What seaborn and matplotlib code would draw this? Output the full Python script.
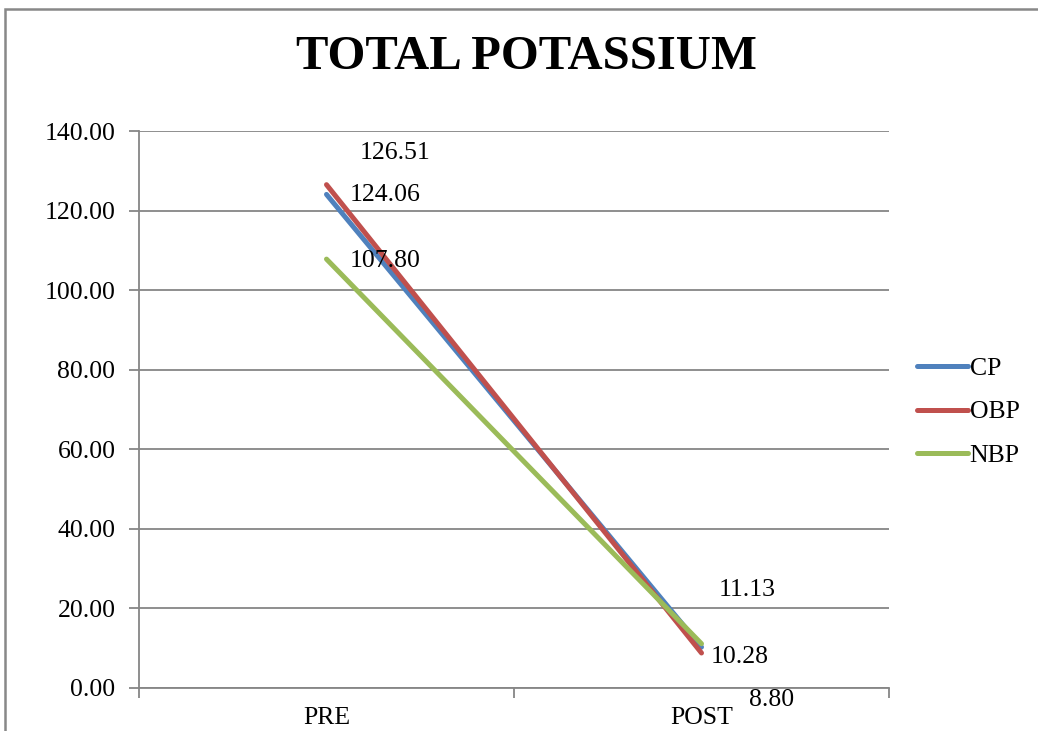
import matplotlib
matplotlib.use("Agg")
import matplotlib.pyplot as plt
import matplotlib.patches as mpatches
import pandas as pd
import seaborn as sb

# data
stages = ["PRE", "POST"]
groups = ["CP", "OBP", "NBP"]
cp_values = [124.06, 10.28]
obp_values = [126.51, 8.80]
nbp_values = [107.80, 11.13]
colors = ["#4F81BD", "#C0504D", "#9BBB59"]

sb.set_style("white")
plt.rcParams["font.family"] = ["Liberation Serif", "DejaVu Serif"]
plt.rcParams["text.color"] = "black"
plt.rcParams["xtick.color"] = "black"
plt.rcParams["ytick.color"] = "black"

rows = []
for name, vals in zip(groups, [cp_values, obp_values, nbp_values]):
    for stage, v in zip(stages, vals):
        rows.append({"Stage": stage, "Group": name, "Value": v})
df = pd.DataFrame(rows)

fig = plt.figure(figsize=(10.38, 7.31), dpi=100)
ax = fig.add_axes([139 / 1038, 1 - 688 / 731, 750 / 1038, 557 / 731])

sb.lineplot(data=df, x="Stage", y="Value", hue="Group", hue_order=groups,
            palette=colors, linewidth=3.6, ax=ax, sort=False, legend=True)
for line in ax.lines:
    line.set_solid_capstyle("round")

ax.set_xlim(-0.5, 1.5)
ax.set_ylim(0, 140)
ax.set_yticks(range(0, 141, 20))
ax.set_yticklabels(["%.2f" % t for t in range(0, 141, 20)], fontsize=18.5)
ax.set_xticks([0, 1])
ax.set_xticklabels(stages, fontsize=18.5)
ax.set_xticks([-0.5, 0.5, 1.5], minor=True)
ax.tick_params(axis="x", which="major", bottom=True, length=0, pad=14, labelcolor="black")
ax.tick_params(axis="x", which="minor", bottom=True, length=7, color="#868686", width=1.3,
               direction="out")
ax.tick_params(axis="y", left=True, length=7, color="#868686", width=1.3, direction="out",
               pad=10, labelcolor="black")
ax.yaxis.grid(True, color="#868686", linewidth=1.3)
ax.xaxis.grid(False)
for side in ["top", "right"]:
    ax.spines[side].set_visible(False)
for side in ["left", "bottom"]:
    ax.spines[side].set_color("#868686")
    ax.spines[side].set_linewidth(1.3)
ax.set_xlabel("")
ax.set_ylabel("")

# data labels, staggered like the original
offsets = {
    ("CP", 0): (23, -1), ("OBP", 0): (33, 32), ("NBP", 0): (23, -2),
    ("CP", 1): (9, -10), ("OBP", 1): (47, -47), ("NBP", 1): (17, 54),
}
for name, vals in zip(groups, [cp_values, obp_values, nbp_values]):
    for i, v in enumerate(vals):
        ax.annotate("%.2f" % v, xy=(i, v), xytext=offsets[(name, i)],
                    textcoords="offset pixels", ha="left", va="center",
                    fontsize=18.5, color="black", annotation_clip=False)

handles, labels = ax.get_legend_handles_labels()
leg = ax.legend(handles, labels, loc="center left", bbox_to_anchor=(904 / 1038, 1 - 412 / 731),
                bbox_transform=fig.transFigure, frameon=False, fontsize=18.5,
                handlelength=2.0, handletextpad=0.05, labelspacing=0.78, borderpad=0)
for t in leg.get_texts():
    t.set_color("black")

fig.text(526 / 1038, 1 - 57 / 731, "TOTAL POTASSIUM", ha="center", va="center",
         fontsize=35, fontweight="bold", color="black")

fig.patches.append(mpatches.Rectangle((5 / 1038, -0.1), 1.2, 1 - 9 / 731 + 0.1,
                                      transform=fig.transFigure, fill=False,
                                      edgecolor="#888888", linewidth=1.8))

plt.savefig("out.png", dpi=100)
